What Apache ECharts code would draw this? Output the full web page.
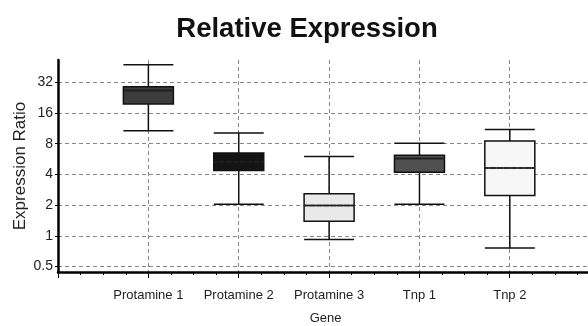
<!DOCTYPE html>
<html>
<head>
<meta charset="utf-8">
<script src="https://cdn.jsdelivr.net/npm/echarts@6/dist/echarts.min.js"></script>
<style>
html,body{margin:0;padding:0;background:#fff;}
#chart{width:588px;height:326px;}
</style>
</head>
<body>
<div id="chart"></div>
<script>
// ---- data ----
var categories = ['Protamine 1', 'Protamine 2', 'Protamine 3', 'Tnp 1', 'Tnp 2'];
var mins    = [10.7, 2.04, 0.92, 2.04, 0.76];
var q1s     = [19.6, 4.37, 1.39, 4.21, 2.48];
var medians = [26.6, 5.3, 1.98, 5.73, 4.61];
var q3s     = [28.9, 6.5, 2.58, 6.18, 8.49];
var maxs    = [47.5, 10.2, 5.99, 8.1, 11.0];
var yTicks  = [0.5, 1, 2, 4, 8, 16, 32];

// ---- styles ----
var boxFills = ['#3c3c3c', '#141414', '#e9e9e9', '#505050', '#f7f7f7'];
var FONT = 'Liberation Sans, Arial, sans-serif';

var boxData = categories.map(function (c, i) {
  return {
    value: [mins[i], q1s[i], medians[i], q3s[i], maxs[i]],
    itemStyle: { color: boxFills[i] }
  };
});
var medData = categories.map(function (c, i) {
  var m = medians[i];
  return [m, m, m, m, m];
});

var yRange = { min: 0.442, max: 52.9 };
function hiddenY(gi) {
  return { gridIndex: gi, type: 'log', logBase: 2, min: yRange.min, max: yRange.max, show: false,
    axisLine: { show: false }, axisTick: { show: false }, axisLabel: { show: false }, splitLine: { show: false } };
}
function hiddenCat(gi) {
  return { gridIndex: gi, type: 'category', data: categories, boundaryGap: true, show: false,
    axisLine: { show: false }, axisTick: { show: false }, axisLabel: { show: false }, splitLine: { show: false } };
}
function boxGrid() {
  return { left: 103.2, right: 33, top: 60, bottom: 54, containLabel: false, outerBoundsMode: 'none' };
}

var chart = echarts.init(document.getElementById('chart'), null, { renderer: 'canvas' });
chart.setOption({
  animation: false,
  backgroundColor: '#fff',
  title: {
    text: 'Relative Expression',
    left: 302,
    textAlign: 'center',
    top: 10,
    textStyle: { fontFamily: FONT, fontSize: 27.5, fontWeight: 'bold', color: '#111' }
  },
  grid: [
    { left: 58, right: -12, top: 60, bottom: 54, containLabel: false, outerBoundsMode: 'none' },
    boxGrid(),
    boxGrid()
  ],
  xAxis: [
    {
      gridIndex: 0,
      type: 'value',
      min: 0, max: 6, interval: 1,
      position: 'bottom',
      axisLine: { show: true, lineStyle: { color: '#000', width: 2.5 } },
      axisTick: { show: true, length: 6, lineStyle: { color: '#000', width: 1 } },
      minorTick: { show: true, splitNumber: 4, length: 3, lineStyle: { color: '#000', width: 1 } },
      axisLabel: { show: false },
      splitLine: { show: true, lineStyle: { color: '#888', type: [4, 3], width: 1 } }
    },
    {
      gridIndex: 1,
      type: 'category',
      data: categories,
      boundaryGap: true,
      position: 'bottom',
      axisLine: { show: false },
      axisTick: { show: false },
      splitLine: { show: false },
      axisLabel: { interval: 0, margin: 17, fontFamily: FONT, fontSize: 13, color: '#222' },
      name: 'Gene',
      nameLocation: 'middle',
      nameGap: 40,
      nameMoveOverlap: false,
      nameTextStyle: { fontFamily: FONT, fontSize: 13, color: '#222', padding: [0, 7, 0, 0] }
    },
    hiddenCat(2)
  ],
  yAxis: [
    {
      gridIndex: 0,
      type: 'log', logBase: 2, min: yRange.min, max: yRange.max,
      axisLine: { show: true, lineStyle: { color: '#000', width: 2.5 } },
      axisTick: { show: true, length: 3, lineStyle: { color: '#000' } },
      axisLabel: {
        showMinLabel: false, showMaxLabel: false, margin: 5,
        fontFamily: FONT, fontSize: 14, color: '#222',
        formatter: function (v) {
          for (var i = 0; i < yTicks.length; i++) {
            if (Math.abs(v - yTicks[i]) < 1e-3 * yTicks[i]) return String(yTicks[i]);
          }
          return '';
        }
      },
      splitLine: { show: true, showMinLine: false, showMaxLine: false, lineStyle: { color: '#888', type: [4, 3], width: 1 } },
      name: 'Expression Ratio',
      nameLocation: 'middle',
      nameGap: 29,
      nameMoveOverlap: false,
      nameTextStyle: { fontFamily: FONT, fontSize: 17, color: '#222' }
    },
    hiddenY(1),
    hiddenY(2)
  ],
  series: [
    {
      type: 'boxplot',
      xAxisIndex: 1,
      yAxisIndex: 1,
      data: boxData,
      boxWidth: [50, 50],
      itemStyle: { borderColor: '#111', borderWidth: 1.5 },
      emphasis: { disabled: true },
      silent: true,
      z: 3
    },
    {
      type: 'boxplot',
      xAxisIndex: 2,
      yAxisIndex: 2,
      data: medData,
      boxWidth: [50, 50],
      itemStyle: { color: 'transparent', borderColor: '#222', borderWidth: 1.5, borderType: [4, 3] },
      emphasis: { disabled: true },
      silent: true,
      z: 4
    }
  ]
});
</script>
</body>
</html>
